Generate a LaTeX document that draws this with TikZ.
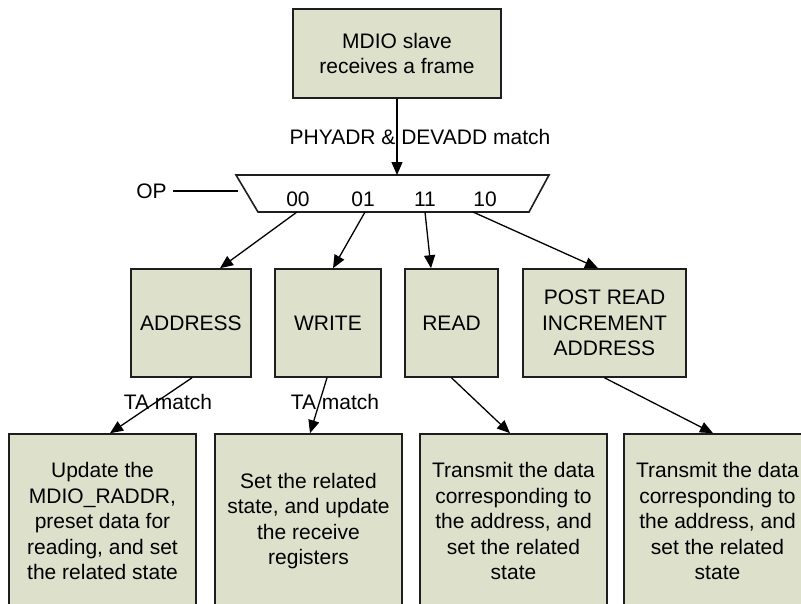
\documentclass[tikz,border=0pt]{standalone}
\usepackage{fontspec}
\setmainfont{Liberation Sans}
\usetikzlibrary{arrows.meta}
\definecolor{boxfill}{RGB}{221,224,203}
\definecolor{boxline}{RGB}{30,30,30}
\tikzset{
  box/.style={draw=boxline, fill=boxfill, line width=1.6pt, inner sep=0pt, align=center,
    font=\fontsize{21}{25.5}\selectfont},
  lbl/.style={inner sep=0pt, font=\fontsize{21}{25.5}\selectfont},
  arr/.style={line width=1.3pt, -{Triangle[length=13pt,width=11pt]}},
  ln/.style={line width=1.3pt}
}
\begin{document}
\begin{tikzpicture}[x=1pt,y=-1pt]
\clip (0,0) rectangle (801,603);
\fill[white] (0,0) rectangle (801,603);

% top box
\node[box, minimum width=208pt, minimum height=89pt] (top) at (397,53.5) {MDIO slave\\receives a frame};

% trapezoid
\coordinate (tl) at (236,175);
\coordinate (tr) at (549,175);
\coordinate (br) at (529,212);
\coordinate (bl) at (258,212);
\draw[line width=1.6pt, draw=boxline, fill=white] (tl) -- (tr) -- (br) -- (bl) -- cycle;
\coordinate (tin) at (397,175);
\coordinate (t00) at (297,212);
\coordinate (t01) at (365,212);
\coordinate (t11) at (425,212);
\coordinate (t10) at (473,212);
\node[lbl] (l00) at (298,199) {00};
\node[lbl] (l01) at (363,199) {01};
\node[lbl] (l11) at (425,199) {11};
\node[lbl] (l10) at (485,199) {10};

% OP
\node[lbl] (op) at (151.5,191) {OP};
\coordinate (opend) at (238,191);
\draw[ln] (173,191) -- (opend);

% top arrow
\draw[arr] (top.south) -- (tin);
\node[lbl] (phy) at (420,137) {PHYADR \& DEVADD match};

% middle boxes
\node[box, minimum width=120pt, minimum height=108pt] (addr) at (191,323) {ADDRESS};
\node[box, minimum width=106pt, minimum height=108pt] (wr) at (328,323) {WRITE};
\node[box, minimum width=93pt, minimum height=108pt] (rd) at (451.5,323) {READ};
\node[box, minimum width=163pt, minimum height=108pt] (post) at (604.5,323) {POST READ\\INCREMENT\\ADDRESS};

\draw[arr] (t00) -- ([xshift=29pt]addr.north);
\draw[arr] (t01) -- ([xshift=5pt]wr.north);
\draw[arr] (t11) -- ([xshift=-20.5pt]rd.north);
\draw[arr] (t10) -- ([xshift=-6.5pt]post.north);

% bottom boxes
\node[box, minimum width=187pt, minimum height=174pt] (b1) at (102.5,521) {Update the\\MDIO\_RADDR,\\preset data for\\reading, and set\\the related state};
\node[box, minimum width=187pt, minimum height=174pt] (b2) at (308.5,521) {Set the related\\state, and update\\the receive\\registers};
\node[box, minimum width=187pt, minimum height=174pt] (b3) at (513.5,521) {Transmit the data\\corresponding to\\the address, and\\set the related\\state};
\node[box, minimum width=187pt, minimum height=174pt] (b4) at (717.5,521) {Transmit the data\\corresponding to\\the address, and\\set the related\\state};

\draw[arr] ([xshift=1pt]addr.south) -- ([xshift=7.5pt]b1.north);
\draw[arr] ([xshift=-1pt]wr.south) -- ([xshift=1.5pt]b2.north);
\draw[arr] (rd.south) -- ([xshift=-3.5pt]b3.north);
\draw[arr] (post.south) -- ([xshift=-4.5pt]b4.north);

\node[lbl] (ta1) at (168,402) {TA match};
\node[lbl] (ta2) at (335,402) {TA match};
\end{tikzpicture}
\end{document}
